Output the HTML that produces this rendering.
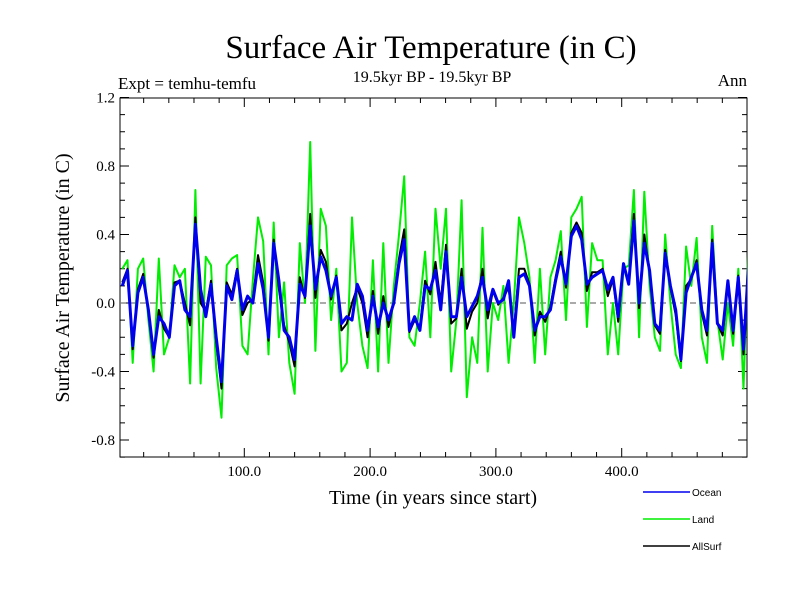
<!DOCTYPE html>
<html><head><meta charset="utf-8"><style>
body{margin:0;background:#fff;}
svg{display:block;font-family:"Liberation Serif",serif;}
</style></head><body>
<svg id="chart" width="800" height="600" viewBox="0 0 800 600">
<rect width="800" height="600" fill="#fff"/>
<text x="431" y="58" font-size="33" text-anchor="middle">Surface Air Temperature (in C)</text>
<text x="118" y="89" font-size="17">Expt = temhu-temfu</text>
<text x="432" y="82" font-size="16" text-anchor="middle">19.5kyr BP - 19.5kyr BP</text>
<text x="747" y="86" font-size="17" text-anchor="end">Ann</text>
<text transform="translate(69,278) rotate(-90)" font-size="20" text-anchor="middle">Surface Air Temperature (in C)</text>
<text x="433" y="504" font-size="20" text-anchor="middle">Time (in years since start)</text>
<g id="axes"></g>
<g id="series"></g>
<g id="legend" font-family="Liberation Sans, sans-serif" font-size="10"></g>
</svg>
<script>
const seriesNames = ["Ocean","Land","AllSurf"];
const yTickLabels = ["1.2","0.8","0.4","0.0","-0.4","-0.8"];
const yTickValues = [1.2,0.8,0.4,0.0,-0.4,-0.8];
const xTickValues = [100,200,300,400];
const xTickLabels = ["100.0","200.0","300.0","400.0"];
const yearStart = 3, yearStep = 4.15;
const ocean = [0.1,0.19,-0.25,0.06,0.15,-0.04,-0.3,-0.08,-0.12,-0.2,0.1,0.13,-0.04,-0.08,0.46,0.08,-0.08,0.11,-0.2,-0.46,0.1,0.02,0.19,-0.04,0.04,0,0.23,0.08,-0.2,0.35,0.13,
-0.16,-0.2,-0.33,0.11,0.04,0.45,0.08,0.27,0.19,0.04,0.15,-0.12,-0.08,-0.1,0.11,0.04,-0.16,0.04,-0.14,0,-0.1,0,0.23,0.37,-0.16,-0.08,-0.16,0.1,0.08,0.19,-0.04,
0.3,-0.08,-0.08,0.15,-0.08,-0.02,0.04,0.15,-0.04,0.08,0,0.02,0.13,-0.2,0.15,0.17,0.1,-0.16,-0.08,-0.08,-0.04,0.13,0.27,0.11,0.39,0.45,0.37,0.11,0.15,0.17,
0.19,0.08,0.15,-0.08,0.23,0.11,0.48,0,0.35,0.19,-0.12,-0.16,0.29,0.1,-0.04,-0.33,0.06,0.15,0.23,-0.04,-0.16,0.35,-0.12,-0.16,0.13,-0.16,0.15,-0.27,0.25];
const land = [0.2,0.25,-0.35,0.2,0.26,-0.1,-0.4,0.26,-0.3,-0.2,0.22,0.15,0.2,-0.47,0.66,-0.47,0.27,0.22,-0.38,-0.67,0.22,0.26,0.28,-0.25,-0.3,0.13,0.5,0.36,-0.3,0.47,-0.2,
0.12,-0.35,-0.53,0.35,0,0.94,-0.28,0.55,0.45,-0.1,0.2,-0.4,-0.35,0.5,0,-0.25,-0.38,0.25,-0.4,0.35,-0.35,0.1,0.4,0.74,-0.2,-0.25,0,0.3,-0.2,0.55,0.2,
0.55,-0.4,-0.1,0.6,-0.55,-0.2,-0.35,0.44,-0.4,0,-0.1,0.1,-0.35,0,0.5,0.35,0.15,-0.35,0.2,-0.3,0.15,0.25,0.42,-0.1,0.5,0.55,0.62,-0.14,0.35,0.25,
0.25,-0.3,0,-0.3,0.2,0.22,0.66,-0.2,0.65,0.1,-0.2,-0.28,0.4,0,-0.3,-0.38,0.33,0.1,0.38,-0.2,-0.35,0.45,-0.1,-0.33,0,-0.25,0.2,-0.5,0.43];
const allSurf = [0.12,0.2,-0.27,0.08,0.17,-0.05,-0.32,-0.04,-0.15,-0.2,0.12,0.13,0,-0.13,0.5,0,-0.05,0.13,-0.23,-0.5,0.12,0.05,0.2,-0.07,0,0.02,0.28,0.12,-0.22,0.37,0.08,
-0.13,-0.23,-0.37,0.15,0.03,0.52,0.03,0.31,0.24,0.02,0.16,-0.16,-0.12,0,0.09,0,-0.2,0.07,-0.18,0.04,-0.14,0.01,0.26,0.43,-0.17,-0.1,-0.14,0.13,0.05,0.24,0,
0.34,-0.12,-0.09,0.2,-0.15,-0.05,0,0.2,-0.09,0.07,-0.01,0.03,0.09,-0.17,0.2,0.2,0.11,-0.19,-0.05,-0.11,-0.02,0.15,0.3,0.09,0.41,0.47,0.41,0.07,0.18,0.18,
0.2,0.04,0.14,-0.11,0.22,0.13,0.52,-0.03,0.4,0.18,-0.13,-0.18,0.31,0.09,-0.07,-0.34,0.1,0.14,0.25,-0.06,-0.19,0.37,-0.12,-0.19,0.12,-0.18,0.16,-0.3,0.28];

const NS="http://www.w3.org/2000/svg";
const X0=120,X1=747,Y0=98,Y1=457;
function xs(yr){return 118.5+1.258*yr;}
function ys(v){return 303-v*171.25;}
function mk(tag,attrs,parent){const e=document.createElementNS(NS,tag);for(const k in attrs)e.setAttribute(k,attrs[k]);parent.appendChild(e);return e;}
const axes=document.getElementById('axes');
const frame=mk('rect',{x:X0,y:Y0,width:X1-X0,height:Y1-Y0,fill:'none',stroke:'#000','stroke-width':1},axes);


for(let v=-0.9;v<=1.2001;v+=0.1){const y=ys(v);if(y<Y0-0.5||y>Y1+0.5)continue;
 const m=Math.abs(Math.round(v*10))%4===0?9:5;
 const t1=mk('line',{x1:X0,x2:X0+m,y1:y,y2:y,stroke:'#000'},axes);
 
 
 const t2=mk('line',{x1:X1,x2:X1-m,y1:y,y2:y,stroke:'#000'},axes);
 
 }
yTickValues.forEach((v,i)=>{const t=mk('text',{x:X0-5,y:ys(v)+5,'font-size':15,'text-anchor':'end'},axes);t.textContent=yTickLabels[i];
 
 });
for(let yr=20;yr<=500;yr+=20){const x=xs(yr);if(x<X0||x>X1-1)continue;const m=yr%100===0?9:5;
 const t1=mk('line',{x1:x,x2:x,y1:Y1,y2:Y1-m,stroke:'#000'},axes);
 
 
 const t2=mk('line',{x1:x,x2:x,y1:Y0,y2:Y0+m,stroke:'#000'},axes);
 
 }
xTickValues.forEach((v,i)=>{const t=mk('text',{x:xs(v),y:Y1+19,'font-size':15,'text-anchor':'middle'},axes);t.textContent=xTickLabels[i];
 
 });
const zl=mk('line',{x1:X0,x2:X1,y1:ys(0),y2:ys(0),stroke:'#777','stroke-dasharray':'6,4','stroke-width':1.2},axes);


const sg=document.getElementById('series');
const cp=mk('clipPath',{id:'clip'},sg);mk('rect',{x:X0,y:Y0,width:X1-X0,height:Y1-Y0},cp);
function pts(arr){return arr.map((v,i)=>xs(yearStart+yearStep*i).toFixed(1)+','+ys(v).toFixed(1)).join(' ');}
const specs=[[land,'#00ee00',2,'land-line'],[allSurf,'#000',2,'allsurf-line'],[ocean,'#0000ee',3,'ocean-line']];
specs.forEach(s=>{const p=mk('polyline',{points:pts(s[0]),fill:'none',stroke:s[1],'stroke-width':s[2],'clip-path':'url(#clip)','stroke-linejoin':'round'},sg);
 
 });
const lg=document.getElementById('legend');
const lcol=['#0000ee','#00ee00','#000'];
seriesNames.forEach((n,i)=>{const y=492+27*i;
 const l=mk('line',{x1:643,x2:690,y1:y,y2:y,stroke:lcol[i],'stroke-width':1.5},lg);
 
 
 const t=mk('text',{x:692,y:y+4},lg);t.textContent=n;
 
 });
</script>
</body></html>
